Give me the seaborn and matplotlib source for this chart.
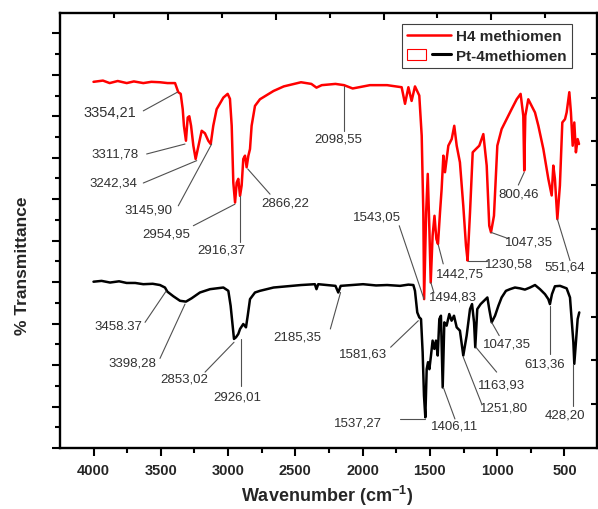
import matplotlib
matplotlib.use('Agg')
import matplotlib.pyplot as plt
import seaborn as sns
import pandas as pd
from matplotlib.lines import Line2D
from matplotlib.patches import Patch
from matplotlib.legend_handler import HandlerTuple
from matplotlib.ticker import MultipleLocator, FixedLocator

# H4 methiomen (red)
h4_wn = [4000, 3930, 3880, 3820, 3753, 3700, 3630, 3570, 3506, 3450, 3394, 3370, 3352, 3337, 3328,
         3313, 3300, 3288, 3275, 3258, 3241, 3221, 3196, 3172, 3147, 3129, 3110, 3085, 3035, 3003,
         2986, 2973, 2961, 2948, 2936, 2924, 2911, 2899, 2887, 2874, 2862, 2849, 2837, 2825, 2800,
         2763, 2662, 2586, 2458, 2381, 2343, 2304, 2202, 2138, 2074, 1946, 1818, 1797, 1710, 1685,
         1660, 1636, 1611, 1579, 1561, 1549, 1543, 1528, 1516, 1504, 1494, 1480, 1466, 1452, 1440,
         1425, 1413, 1400, 1388, 1363, 1338, 1319, 1301, 1277, 1252, 1232, 1220, 1202, 1182, 1158,
         1133, 1103, 1078, 1059, 1046, 1024, 999, 967, 930, 893, 855, 826, 806, 799, 791,
         769, 744, 719, 694, 657, 620, 595, 583, 571, 553, 534, 516, 496, 484, 464,
         452, 439, 427, 415, 402, 392]
h4_t = [88.3, 88.6, 88.0, 88.5, 88.0, 88.4, 88.0, 88.3, 88.2, 88.0, 88.0, 85.8, 85.4, 81.7, 77.7,
        74.1, 79.7, 80.0, 77.7, 72.9, 69.7, 72.7, 76.5, 75.9, 74.1, 73.3, 77.7, 81.7, 84.5, 85.4,
        84.2, 77.7, 64.0, 59.2, 64.0, 64.9, 60.8, 63.3, 69.7, 70.5, 67.7, 70.5, 72.1, 77.7, 82.5,
        84.1, 86.1, 87.2, 88.2, 87.8, 86.9, 87.5, 87.8, 87.5, 86.7, 87.5, 87.5, 87.4, 87.0, 83.0,
        87.0, 83.7, 87.2, 85.0, 75.3, 56.8, 35.9, 56.8, 66.1, 52.8, 39.9, 51.2, 56.0, 50.4, 49.2,
        56.8, 62.4, 70.5, 66.5, 72.9, 74.5, 77.7, 72.9, 68.9, 58.4, 48.8, 45.2, 56.8, 71.3, 72.1,
        72.9, 75.7, 68.1, 53.6, 52.0, 56.0, 72.9, 76.9, 79.3, 81.7, 84.1, 85.4, 80.1, 66.9, 80.1,
        84.1, 82.5, 80.9, 77.7, 72.1, 64.9, 60.9, 68.1, 64.9, 55.2, 63.3, 78.5, 79.3, 80.9, 85.8,
        80.9, 72.9, 78.5, 71.3, 74.5, 73.3]

# Pt-4methiomen (black)
pt_wn = [4000, 3940, 3877, 3810, 3754, 3690, 3630, 3560, 3506, 3469, 3451, 3407, 3357, 3313, 3271,
         3209, 3134, 3035, 2998, 2981, 2966, 2956, 2941, 2924, 2911, 2887, 2867, 2854, 2837, 2800,
         2763, 2662, 2458, 2355, 2343, 2330, 2202, 2181, 2163, 2080, 1997, 1900, 1818, 1722, 1660,
         1623, 1611, 1594, 1579, 1566, 1554, 1544, 1534, 1524, 1514, 1504, 1492, 1480, 1467, 1455,
         1442, 1430, 1418, 1405, 1393, 1376, 1356, 1339, 1321, 1301, 1277, 1252, 1227, 1202, 1187,
         1172, 1163, 1148, 1123, 1098, 1073, 1059, 1041, 1016, 991, 967, 935, 905, 868, 831,
         794, 756, 719, 682, 645, 620, 608, 593, 571, 533, 484, 459, 447, 434, 427,
         415, 402, 390]
pt_t = [40.1, 40.3, 39.9, 40.2, 39.8, 39.8, 39.5, 39.6, 39.3, 38.7, 37.7, 36.6, 35.5, 35.3, 36.1,
        37.5, 38.3, 38.7, 37.9, 34.3, 29.5, 26.3, 26.7, 27.5, 28.7, 29.9, 29.1, 31.9, 35.9, 37.5,
        37.9, 38.7, 39.3, 39.5, 38.3, 39.5, 39.1, 37.5, 39.1, 39.3, 39.5, 39.2, 39.3, 39.1, 39.4,
        39.3, 37.9, 32.7, 31.5, 31.1, 23.1, 12.6, 7.4, 19.0, 20.7, 19.0, 22.3, 25.9, 23.9, 25.9,
        22.3, 31.1, 31.9, 14.6, 30.3, 29.5, 32.3, 30.7, 31.9, 29.1, 28.3, 22.3, 27.1, 33.5, 34.7,
        30.3, 24.3, 33.5, 34.7, 35.5, 36.3, 33.5, 30.3, 31.9, 34.3, 36.3, 37.9, 38.3, 38.7, 38.5,
        38.2, 38.7, 39.3, 38.3, 37.1, 35.9, 34.7, 37.1, 39.0, 39.1, 38.5, 36.3, 31.1, 25.5, 20.3,
        25.5, 31.1, 32.7]

series_names = ['H4 methiomen', 'Pt-4methiomen']

# peak labels (text, where the text sits, leader line start -> end)
peak_labels = ['3354,21', '3311,78', '3242,34', '3145,90', '2954,95', '2916,37', '2866,22',
               '2098,55', '1543,05', '800,46', '1047,35', '551,64', '1230,58', '1442,75', '1494,83',
               '3458.37', '3398,28', '2853,02', '2926,01', '2185,35', '1581,63', '1537,27',
               '1406,11', '1251,80', '1163,93', '1047,35', '613,36', '428,20']
label_xy = [(3877, 81.1), (3838, 70.9), (3853, 64.1), (3595, 57.5), (3461, 51.8), (3053, 47.8),
            (2573, 59.2), (2179, 74.7), (1892, 55.9), (840, 61.4), (762, 49.7), (496, 43.8),
            (910, 44.5), (1277, 42.0), (1331, 36.6),
            (3816, 29.5), (3712, 20.7), (3322, 16.8), (2928, 12.5), (2483, 26.9), (1997, 22.9),
            (2035, 6.2), (1316, 5.4), (947, 9.8), (967, 15.4), (930, 25.1), (647, 20.3), (494, 8.0)]
leaders = [((3630, 81.3), (3377, 85.8)), ((3605, 70.9), (3320, 73.3)), ((3630, 63.9), (3233, 69.3)),
           ((3370, 58.4), (3122, 73.3)), ((3258, 53.6), (2949, 58.8)), ((2911, 49.7), (2911, 60.8)),
           ((2688, 61.2), (2854, 67.3)), ((2138, 76.5), (2138, 87.2)), ((1728, 53.6), (1544, 35.9)),
           ((843, 63.4), (799, 66.5)), ((918, 50.5), (1046, 52.0)), ((459, 45.2), (553, 55.2)),
           ((1078, 45.2), (1219, 45.2)), ((1401, 44.4), (1438, 49.0)), ((1470, 37.4), (1493, 39.9)),
           ((3617, 30.3), (3461, 37.8)), ((3506, 21.6), (3320, 34.7)), ((3171, 18.3), (2956, 25.5)),
           ((2904, 15.0), (2904, 26.4)), ((2240, 28.7), (2164, 37.5)), ((1792, 24.3), (1586, 30.7)),
           ((1722, 7.1), (1534, 7.1)), ((1314, 7.0), (1400, 14.6)), ((1115, 10.6), (1252, 21.9)),
           ((1004, 18.3), (1158, 24.3)), ((985, 27.1), (1041, 30.3)), ((608, 22.7), (608, 34.3)),
           ((435, 10.2), (435, 20.3))]

df = pd.concat([
    pd.DataFrame({'wn': h4_wn, 'T': h4_t, 'sample': series_names[0]}),
    pd.DataFrame({'wn': pt_wn, 'T': pt_t, 'sample': series_names[1]}),
])

sns.set_theme(style='ticks')
plt.rcParams['font.family'] = ['Liberation Sans', 'DejaVu Sans']
plt.rcParams['mathtext.default'] = 'regular'

fig = plt.figure(figsize=(5.98, 5.10), dpi=100)
ax = fig.add_axes([60/598, 61/510, 536.5/598, 435/510])

sns.lineplot(data=df, x='wn', y='T', hue='sample', sort=False, estimator=None,
             palette={series_names[0]: '#ff0000', series_names[1]: '#000000'},
             linewidth=1.8, legend=False, ax=ax)

for txt, (tx, ty), ((x0, y0), (x1, y1)) in zip(peak_labels, label_xy, leaders):
    ax.plot([x0, x1], [y0, y1], color='#505050', lw=0.8)
    fs = 10.5 if txt == '3354,21' else 9.5
    ax.text(tx, ty, txt, ha='center', va='center', fontsize=fs, color='#303030')

ax.set_xlim(4249, 262)
ax.set_ylim(0, 104.9)
ax.xaxis.set_major_locator(MultipleLocator(500))
ax.xaxis.set_minor_locator(MultipleLocator(250))
ax.yaxis.set_major_locator(MultipleLocator(10))
ax.yaxis.set_minor_locator(MultipleLocator(5))
ax.tick_params(axis='both', which='both', direction='out', top=False, right=False, width=1.5, color='black')
ax.tick_params(axis='both', which='major', length=6)
ax.tick_params(axis='both', which='minor', length=3.5)
ax.tick_params(axis='x', labelsize=10.5, pad=4.5)
ax.tick_params(axis='y', labelleft=False)
for lab in ax.get_xticklabels():
    lab.set_fontweight('bold')
for sp in ax.spines.values():
    sp.set_linewidth(1.7)
    sp.set_color('black')
ax.set_xlabel('')
ax.set_ylabel('')

fig.text(327/598, 1 - 496/510, 'Wavenumber (cm$^{-1}$)', ha='center', va='center',
         fontsize=13, fontweight='bold')
fig.text(23/598, 1 - 266/510, '% Transmittance', ha='center', va='center', rotation=90,
         fontsize=12.5, fontweight='bold')

# top axis: its own inward ticks
ax_top = ax.twiny()
ax_top.set_xlim(0, 9.95)
ax_top.xaxis.set_major_locator(FixedLocator([2, 4, 6, 8]))
ax_top.xaxis.set_minor_locator(FixedLocator([1, 3, 5, 7, 9]))
ax_top.tick_params(axis='x', which='both', direction='in', labeltop=False, width=1.5, color='black')
ax_top.tick_params(axis='x', which='major', length=5)
ax_top.tick_params(axis='x', which='minor', length=3.5)
# right axis: inward ticks
ax_r = ax.twinx()
ax_r.set_ylim(0, 9.93)
ax_r.yaxis.set_major_locator(FixedLocator(list(range(1, 10))))
ax_r.tick_params(axis='y', which='both', direction='in', labelright=False, length=4.5, width=1.5, color='black')
for a in (ax_top, ax_r):
    for sp in a.spines.values():
        sp.set_visible(False)

handles = [Line2D([], [], color='#ff0000', lw=1.8),
           (Patch(facecolor='white', edgecolor='#ff0000', lw=0.8), Line2D([], [], color='black', lw=2.2))]
leg = ax_r.legend(handles, series_names, loc='upper right', bbox_to_anchor=(0.954, 0.975),
                  bbox_transform=ax.transAxes, borderaxespad=0, fancybox=False, framealpha=1,
                  edgecolor='#404040', handlelength=2.9, handletextpad=0.3, labelspacing=0.35,
                  borderpad=0.35, prop={'weight': 'bold', 'size': 11},
                  handler_map={tuple: HandlerTuple(ndivide=None)})
leg.get_frame().set_linewidth(0.8)

fig.savefig('out.png', dpi=100)
